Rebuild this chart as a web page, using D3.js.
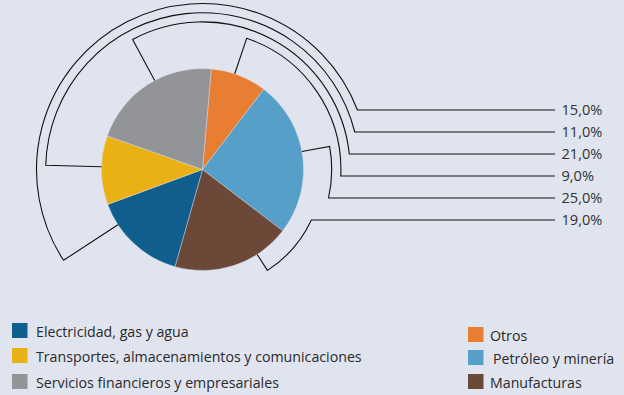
<!DOCTYPE html>
<html>
<head>
<meta charset="utf-8">
<script src="https://cdn.jsdelivr.net/npm/d3@7"></script>
<style>
  html, body { margin: 0; padding: 0; background: #dfe4ef; }
  svg { display: block; font-family: "Open Sans", Lato, sans-serif; }
</style>
</head>
<body>
<svg id="chart" width="624" height="395"></svg>
<script>
// Sector shares, in drawing order (clockwise from the top)
const categories = [
  "Otros",
  "Petróleo y minería",
  "Manufacturas",
  "Electricidad, gas y agua",
  "Transportes, almacenamientos y comunicaciones",
  "Servicios financieros y empresariales"
];
const shares = [9, 25, 19, 15, 11, 21];
const colors = ["#e77e32", "#569fc8", "#6c4839", "#0f5e8d", "#eab114", "#939498"];

// Legend columns
const legendLeft = [
  "Electricidad, gas y agua",
  "Transportes, almacenamientos y comunicaciones",
  "Servicios financieros y empresariales"
];
const legendRight = ["Otros", "Petróleo y minería", "Manufacturas"];

// Where each leader leaves its slice (fraction of the slice's span)
const leaderAnchor = [0.42, 0.47, 0.29, 0.76, 0.55, 0.56];

const svg = d3.select("#chart");
const cx = 202.5, cy = 169.5, radius = 101;
const deg = Math.PI / 180;
const startAngle = 5 * deg;

const pie = d3.pie().sort(null).value(d => d.value)
  .startAngle(startAngle).endAngle(startAngle + 2 * Math.PI);
const rows = categories.map((c, i) => ({ name: c, value: shares[i], color: colors[i], anchor: leaderAnchor[i] }));
const arcs = pie(rows);

const arcGen = d3.arc().innerRadius(0).outerRadius(radius);
const g = svg.append("g").attr("transform", `translate(${cx},${cy})`);

g.selectAll("path.slice").data(arcs).join("path")
  .attr("class", "slice")
  .attr("d", arcGen)
  .attr("fill", d => d.data.color)
  .attr("stroke", "#dfe4ef")
  .attr("stroke-width", 0.4);

// Leader brackets: radial tick, concentric arc, then a horizontal run to the label
const fmt = d3.formatLocale({ decimal: ",", thousands: ".", grouping: [3], currency: ["", ""] }).format(".1f");
const labelTop = 110, labelStep = 22, lineEnd = 555, textX = 561.5;
const rOuter = 166, rStep = 9.2;

const leaders = arcs.map(d => {
  const a = d.startAngle + d.data.anchor * (d.endAngle - d.startAngle);
  return { d, a, key: ((a - Math.PI) % (2 * Math.PI) + 2 * Math.PI) % (2 * Math.PI) };
}).sort((p, q) => p.key - q.key);

const pt = (r, a) => [r * Math.sin(a), -r * Math.cos(a)];

leaders.forEach((L, row) => {
  const ly = labelTop + row * labelStep - cy;
  const rb = rOuter - row * rStep;
  let a = ((L.a % (2 * Math.PI)) + 2 * Math.PI) % (2 * Math.PI);
  const b = Math.acos(-ly / rb);
  const ccw = a > b && a <= Math.PI;
  const p0 = pt(radius, a), p1 = pt(rb, a);
  const path = d3.path();
  path.moveTo(p0[0], p0[1]);
  path.lineTo(p1[0], p1[1]);
  // d3.path arc uses angles from +x axis; convert from top-clockwise
  path.arc(0, 0, rb, a - Math.PI / 2, b - Math.PI / 2, ccw);
  path.lineTo(lineEnd - cx, ly);
  g.append("path")
    .attr("d", path.toString())
    .attr("fill", "none")
    .attr("stroke", "#111")
    .attr("stroke-width", 1.1);
  svg.append("text")
    .attr("x", textX)
    .attr("y", labelTop + row * labelStep + 5)
    .attr("font-size", 14.6)
    .attr("fill", "#333")
    .text(fmt(L.d.data.value) + "%");
});

// Legend
const colorOf = name => colors[categories.indexOf(name)];
const leftTops = [323, 348, 374], rightTops = [327, 350, 374];
legendLeft.forEach((name, i) => {
  svg.append("rect").attr("x", 12).attr("y", leftTops[i]).attr("width", 15.5).attr("height", 15).attr("fill", colorOf(name));
  svg.append("text").attr("x", 36).attr("y", leftTops[i] + 13.5).attr("font-size", 14.2).attr("fill", "#2a2a2a").text(name);
});
legendRight.forEach((name, i) => {
  svg.append("rect").attr("x", 468).attr("y", rightTops[i]).attr("width", 15.5).attr("height", 15).attr("fill", colorOf(name));
  svg.append("text").attr("x", name.startsWith("Petr") ? 493 : 490).attr("y", rightTops[i] + 14).attr("font-size", 14.2).attr("fill", "#2a2a2a").text(name);
});
</script>
</body>
</html>
